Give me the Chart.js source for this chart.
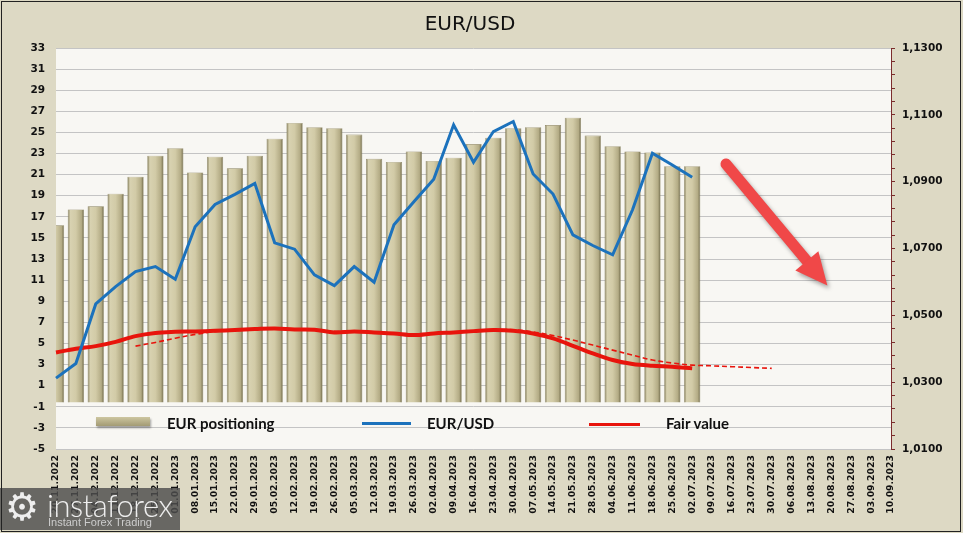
<!DOCTYPE html>
<html>
<head>
<meta charset="utf-8">
<script src="https://cdn.jsdelivr.net/npm/chart.js@4.4.1/dist/chart.umd.min.js"></script>
<style>
  html, body { margin: 0; padding: 0; background: #ddd9c4; }
  #wrap { position: relative; width: 963px; height: 533px; background: #ddd9c4; overflow: hidden; }
  #frame { position: absolute; left: 1px; top: 1px; width: 958px; height: 529px; border: 1px solid #222; pointer-events: none; }
  #title { position: absolute; left: 370px; top: 11px; width: 200px; text-align: center;
           font: 20px "DejaVu Sans", Verdana, sans-serif; color: #111; }
  .lg { position: absolute; font: bold 15px Lato, "Open Sans", sans-serif; color: #111; line-height: 18px; }
  .sw { position: absolute; }
  #wm { position: absolute; left: 0; top: 488px; width: 180px; height: 42px; background: rgba(78,78,78,.82); color: #eee; }
  #wm .gear { position: absolute; left: 5px; top: -3px; font: 38px "DejaVu Sans", sans-serif; }
  #wm .big { position: absolute; left: 47px; top: -2px; font: 300 31px Lato, sans-serif; letter-spacing: -0.5px; }
  #wm .small { position: absolute; left: 48px; top: 28px; font: 11px "Liberation Sans", Arial, sans-serif; color: #ccc; }
</style>
</head>
<body>
<div id="wrap">
  <canvas id="c"></canvas>
  <div id="title">EUR/USD</div>
  <div class="sw" style="left:96px;top:417px;width:54px;height:9px;background:linear-gradient(#cdc6a0,#a39b74);box-shadow:1px 2px 2px rgba(0,0,0,.35)"></div>
  <div class="lg" style="left:167px;top:414px">EUR positioning</div>
  <div class="sw" style="left:362px;top:422px;width:49px;height:3px;background:#1c72bc"></div>
  <div class="lg" style="left:427px;top:414px">EUR/USD</div>
  <div class="sw" style="left:589px;top:423px;width:51px;height:3px;background:#e8140c"></div>
  <div class="lg" style="left:666px;top:414px">Fair value</div>
  <div id="wm"><span class="gear">⚙</span><span class="big">instaforex</span><span class="small">Instant Forex Trading</span></div>
  <div id="frame"></div>
</div>
<script>
// weekly dates on the category axis
const dates = [
  '20.11.2022', '27.11.2022', '04.12.2022', '11.12.2022', '18.12.2022', '25.12.2022',
  '01.01.2023', '08.01.2023', '15.01.2023', '22.01.2023', '29.01.2023', '05.02.2023',
  '12.02.2023', '19.02.2023', '26.02.2023', '05.03.2023', '12.03.2023', '19.03.2023',
  '26.03.2023', '02.04.2023', '09.04.2023', '16.04.2023', '23.04.2023', '30.04.2023',
  '07.05.2023', '14.05.2023', '21.05.2023', '28.05.2023', '04.06.2023', '11.06.2023',
  '18.06.2023', '25.06.2023', '02.07.2023', '09.07.2023', '16.07.2023', '23.07.2023',
  '30.07.2023', '06.08.2023', '13.08.2023', '20.08.2023', '27.08.2023', '03.09.2023',
  '10.09.2023'
];

// EUR positioning (bars, left axis)
const positioning = [
  16.2, 17.7, 18.0, 19.2, 20.8, 22.8, 23.5, 21.2, 22.7, 21.6, 22.8,
  24.4, 25.9, 25.5, 25.4, 24.8, 22.5, 22.2, 23.2, 22.3, 22.6, 23.9,
  24.5, 25.4, 25.5, 25.7, 26.4, 24.7, 23.7, 23.2, 23.1, 21.8, 21.8
];

// EUR/USD rate (right axis)
const eurusd = [
  1.0312, 1.0356, 1.0534, 1.0586, 1.0631, 1.0646, 1.0608, 1.0765, 1.0832, 1.0862, 1.0895,
  1.0717, 1.0698, 1.0621, 1.0589, 1.0646, 1.0599, 1.0771, 1.0840, 1.0907, 1.1070, 1.0958,
  1.1050, 1.1080, 1.0923, 1.0863, 1.0741, 1.0709, 1.0681, 1.0816, 1.0985, 1.0950, 1.0913
];

// fair value (left axis) and its dashed trend
const fairValue = [
  4.15, 4.5, 4.75, 5.15, 5.7, 6.0, 6.1, 6.14, 6.2, 6.27, 6.36,
  6.43, 6.33, 6.3, 6.05, 6.14, 6.05, 5.95, 5.8, 5.95, 6.05, 6.17,
  6.27, 6.2, 5.95, 5.48, 4.78, 4.06, 3.43, 3.05, 2.89, 2.8, 2.64
];
const fairTrend = [
  null, null, null, null, 4.75, 5.1, 5.5, 5.86, 6.12, 6.22, 6.32,
  6.4, 6.35, 6.3, 6.15, 6.15, 6.05, 5.95, 5.85, 5.95, 6.05, 6.15,
  6.27, 6.3, 6.1, 5.75, 5.32, 4.85, 4.37, 3.9, 3.43, 3.15, 2.95,
  2.88, 2.8, 2.72, 2.64
];

const leftAxis = { min: -5, max: 33, step: 2 };
const rightAxis = { min: 1.01, max: 1.13, step: 0.004, labelEvery: 5 };
const barBase = -0.6;

// annotation arrow, in (category index, left value) units
const arrow = { from: [33.7, 22.0], to: [38.8, 10.5] };

const TICK_FONT = { family: 'DejaVu Sans', size: 10.5, weight: 'bold' };

function barFill(ctx) {
  const chart = ctx.chart;
  if (!chart.chartArea || ctx.type !== 'data') return '#c9c29c';
  const x = chart.scales.x.getPixelForValue(ctx.dataIndex);
  const g = chart.ctx.createLinearGradient(x - 8, 0, x + 8, 0);
  g.addColorStop(0, '#7f7855');
  g.addColorStop(0.15, '#d8d2b1');
  g.addColorStop(0.5, '#d2cba7');
  g.addColorStop(0.85, '#b3ab85');
  g.addColorStop(1, '#6f6949');
  return g;
}

const plotBg = {
  id: 'plotBg',
  beforeDraw(chart) {
    const { ctx, chartArea: a } = chart;
    ctx.save();
    ctx.fillStyle = '#f8f7f3';
    ctx.fillRect(a.left, a.top, a.right - a.left, a.bottom - a.top);
    ctx.restore();
  }
};

const arrowPlugin = {
  id: 'arrow',
  afterDatasetsDraw(chart) {
    const { ctx, scales } = chart;
    const x1 = scales.x.getPixelForValue(arrow.from[0]), y1 = scales.y.getPixelForValue(arrow.from[1]);
    const x2 = scales.x.getPixelForValue(arrow.to[0]), y2 = scales.y.getPixelForValue(arrow.to[1]);
    const ang = Math.atan2(y2 - y1, x2 - x1);
    const headLen = 32, headW = 15;
    const bx = x2 - headLen * Math.cos(ang), by = y2 - headLen * Math.sin(ang);
    ctx.save();
    ctx.shadowColor = 'rgba(0,0,0,.35)';
    ctx.shadowBlur = 4;
    ctx.shadowOffsetX = 2;
    ctx.shadowOffsetY = 3;
    ctx.strokeStyle = '#f04848';
    ctx.fillStyle = '#f04848';
    ctx.lineWidth = 11;
    ctx.lineCap = 'round';
    ctx.beginPath();
    ctx.moveTo(x1, y1);
    ctx.lineTo(bx + 4 * Math.cos(ang), by + 4 * Math.sin(ang));
    ctx.stroke();
    ctx.beginPath();
    ctx.moveTo(x2, y2);
    ctx.lineTo(bx + headW * Math.sin(ang), by - headW * Math.cos(ang));
    ctx.lineTo(bx - headW * Math.sin(ang), by + headW * Math.cos(ang));
    ctx.closePath();
    ctx.fill();
    ctx.restore();
  }
};

new Chart(document.getElementById('c'), {
  type: 'bar',
  data: {
    labels: dates,
    datasets: [
      { type: 'line', label: 'EUR/USD', data: eurusd, yAxisID: 'y1', order: 0,
        borderColor: '#1c72bc', borderWidth: 3, pointRadius: 0, tension: 0 },
      { type: 'line', label: 'Fair value', data: fairValue, yAxisID: 'y', order: 1,
        borderColor: '#e8140c', borderWidth: 4, pointRadius: 0, tension: 0.35 },
      { type: 'line', label: 'Fair value trend', data: fairTrend, yAxisID: 'y', order: 2,
        borderColor: '#e8140c', borderWidth: 1.6, borderDash: [5, 3], pointRadius: 0, tension: 0.35 },
      { label: 'EUR positioning', data: positioning, yAxisID: 'y', order: 3,
        base: barBase, backgroundColor: barFill, borderColor: '#8a8361', borderWidth: 0.6,
        categoryPercentage: 1, barPercentage: 0.82 }
    ]
  },
  options: {
    responsive: true, maintainAspectRatio: false, animation: false,
    layout: { padding: { top: 48, left: 0, right: 0, bottom: 0 } },
    plugins: { legend: { display: false }, tooltip: { enabled: false }, title: { display: false } },
    scales: {
      x: {
        offset: false,
        grid: { display: false, drawTicks: false },
        border: { display: false },
        ticks: { autoSkip: false, maxRotation: 90, minRotation: 90, padding: 6, color: '#111',
                 font: { family: 'DejaVu Sans', size: 9.3, weight: 'bold' } },
        afterFit: s => { s.height = 84; }
      },
      y: {
        position: 'left', min: leftAxis.min, max: leftAxis.max,
        grid: { color: '#c4c4c4', drawTicks: false },
        border: { display: false },
        ticks: { stepSize: leftAxis.step, padding: 11, color: '#111', font: TICK_FONT },
        afterFit: s => { s.width = 56; }
      },
      y1: {
        position: 'right', min: rightAxis.min, max: rightAxis.max,
        grid: { drawOnChartArea: false, drawTicks: true, tickLength: 4, color: '#7b2c2c' },
        border: { display: true, color: '#7b2c2c' },
        ticks: { stepSize: rightAxis.step, autoSkip: false, padding: 7, color: '#111', font: TICK_FONT,
                 callback: (v, i) => i % rightAxis.labelEvery === 0 ? v.toFixed(4).replace('.', ',') : '' },
        afterFit: s => { s.width = 72; }
      }
    }
  },
  plugins: [plotBg, arrowPlugin]
});
</script>
</body>
</html>
